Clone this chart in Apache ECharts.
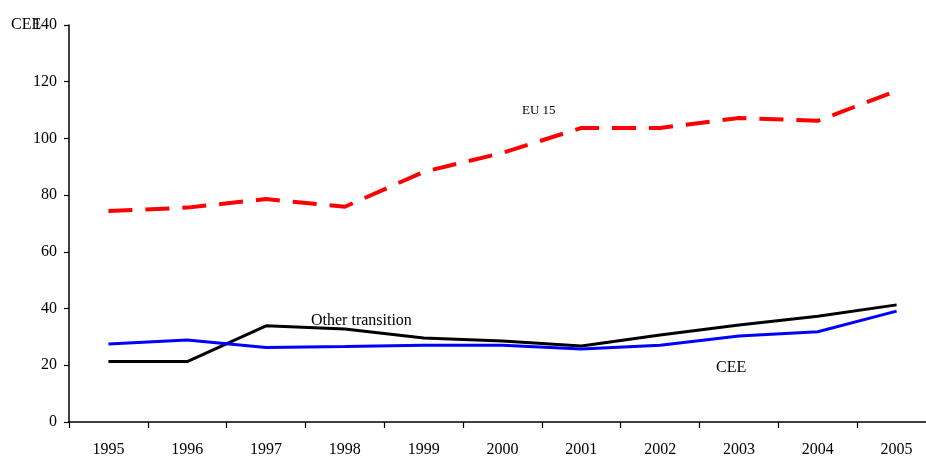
<!DOCTYPE html>
<html>
<head>
<meta charset="utf-8">
<script src="https://cdn.jsdelivr.net/npm/echarts@6/dist/echarts.min.js"></script>
<style>
html,body{margin:0;padding:0;background:#fff;}
#chart{width:926px;height:459px;}
</style>
</head>
<body>
<div id="chart"></div>
<script>
const years = ['1995','1996','1997','1998','1999','2000','2001','2002','2003','2004','2005'];
const eu15 = [74.4, 75.6, 78.6, 75.9, 88.2, 94.9, 103.7, 103.7, 107.2, 106.2, 116.8];
const otherTransition = [21.3, 21.3, 33.9, 32.8, 29.6, 28.6, 26.8, 30.7, 34.2, 37.3, 41.3];
const cee = [27.5, 28.9, 26.3, 26.6, 27.1, 27.1, 25.7, 27.1, 30.3, 31.8, 39.1];
const yTicks = {min: 0, max: 140, interval: 20};

const font = 'Liberation Serif';
const chart = echarts.init(document.getElementById('chart'));
chart.setOption({
  animation: false,
  backgroundColor: '#fff',
  grid: {left: 69, top: 25, right: -10, bottom: 37, outerBoundsMode: 'none', containLabel: false},
  xAxis: {
    type: 'category',
    data: years,
    boundaryGap: true,
    axisLine: {lineStyle: {color: '#000', width: 1.5}},
    axisTick: {show: true, inside: false, length: 6, lineStyle: {color: '#000', width: 1.2}},
    axisLabel: {color: '#000', fontFamily: font, fontSize: 16, margin: 20}
  },
  yAxis: {
    type: 'value',
    min: yTicks.min, max: yTicks.max, interval: yTicks.interval,
    axisLine: {show: true, lineStyle: {color: '#000', width: 1.5}},
    axisTick: {show: true, length: 5, lineStyle: {color: '#000', width: 1.2}},
    splitLine: {show: false},
    axisLabel: {color: '#000', fontFamily: font, fontSize: 16, margin: 12}
  },
  series: [
    {name: 'EU 15', type: 'line', data: eu15, symbol: 'none',
     lineStyle: {color: '#ff0000', width: 4, type: [24, 13]}},
    {name: 'Other transition', type: 'line', data: otherTransition, symbol: 'none',
     lineStyle: {color: '#000', width: 3}},
    {name: 'CEE', type: 'line', data: cee, symbol: 'none',
     lineStyle: {color: '#0000ff', width: 3}}
  ],
  graphic: [
    {type: 'text', left: 11, top: 17, style: {text: 'CEE', font: '16px "Liberation Serif"', fill: '#000'}},
    {type: 'text', left: 522, top: 104, style: {text: 'EU 15', font: '13px "Liberation Serif"', fill: '#000'}},
    {type: 'text', left: 311, top: 313, style: {text: 'Other transition', font: '16px "Liberation Serif"', fill: '#000'}},
    {type: 'text', left: 716, top: 360, style: {text: 'CEE', font: '16px "Liberation Serif"', fill: '#000'}}
  ]
});
</script>
</body>
</html>
